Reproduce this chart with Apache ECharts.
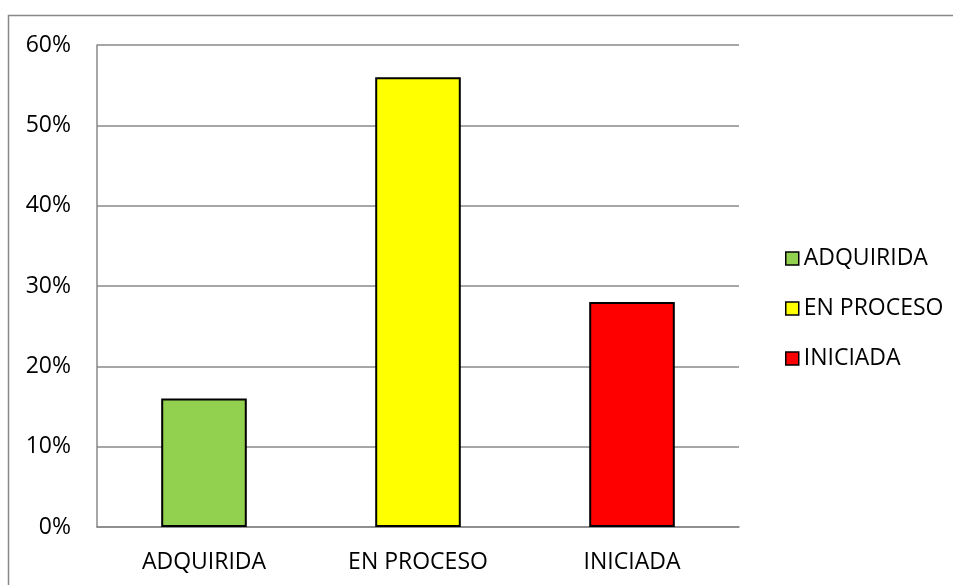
<!DOCTYPE html>
<html><head><meta charset="utf-8">
<script src="https://cdn.jsdelivr.net/npm/echarts@6/dist/echarts.min.js"></script>
<style>html,body{margin:0;padding:0;background:#fff}#c{width:953px;height:585px}</style>
</head><body><div id="c"></div>
<script>
const categories = ['ADQUIRIDA', 'EN PROCESO', 'INICIADA'];
const values = [16, 56, 28];
const colors = ['#92D050', '#FFFF00', '#FF0000'];
const yTicks = [0, 10, 20, 30, 40, 50, 60];

const FONT = 'Open Sans';
const chart = echarts.init(document.getElementById('c'), null, {renderer: 'canvas'});
const series = categories.map((name, i) => ({
  name: name,
  type: 'bar',
  barWidth: '40%',
  barGap: '-100%',
  itemStyle: {color: colors[i], borderColor: '#000', borderWidth: 2},
  data: categories.map((c, j) => (j === i ? values[i] : null)),
  animation: false
}));
chart.setOption({
  animation: false,
  textStyle: {fontFamily: FONT},
  graphic: [{
    type: 'rect', shape: {x: 8.5, y: 15.5, width: 1000, height: 1000},
    style: {fill: 'none', stroke: '#888', lineWidth: 1.5}, silent: true, z: -10
  }],
  grid: {left: 97, top: 45, right: 214, bottom: 58, containLabel: false},
  legend: {
    orient: 'vertical', left: 780, top: 242, itemGap: 27,
    itemWidth: 13, itemHeight: 13, icon: 'rect',
    textStyle: {fontFamily: FONT, fontSize: 23, color: '#000', padding: [0, 0, 0, 0]},
    data: categories.map((c, i) => ({name: c, itemStyle: {color: colors[i], borderColor: '#000', borderWidth: 1.5}}))
  },
  xAxis: {
    type: 'category', data: categories,
    axisLine: {lineStyle: {color: '#888', width: 1.5}},
    axisTick: {show: false},
    axisLabel: {color: '#000', fontSize: 23, fontFamily: FONT, margin: 24}
  },
  yAxis: {
    type: 'value', min: 0, max: 60, interval: 10,
    axisLine: {show: true, lineStyle: {color: '#888', width: 1.5}},
    axisTick: {show: false},
    splitLine: {lineStyle: {color: '#888', width: 1.5}},
    axisLabel: {color: '#000', fontSize: 23, fontFamily: FONT, margin: 26,
      formatter: v => yTicks.includes(v) ? v + '%' : ''}
  },
  series: series
});
</script></body></html>
